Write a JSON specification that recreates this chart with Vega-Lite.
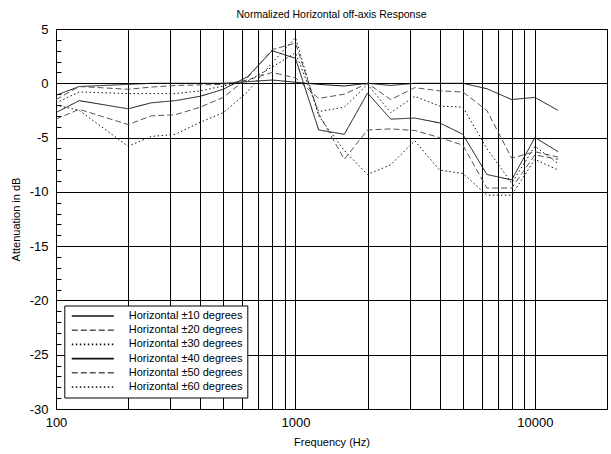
{
  "$schema": "https://vega.github.io/schema/vega-lite/v6.json",
  "width": 551,
  "height": 380,
  "autosize": {"type": "none"},
  "padding": {"left": 56, "top": 29, "right": 4, "bottom": 45},
  "background": "white",
  "title": {"text": "Normalized Horizontal off-axis Response", "fontSize": 10.5, "fontWeight": "normal", "font": "Liberation Sans", "color": "black", "offset": 3},
  "data": {"values": [
    {"f": 100, "Horizontal ±10 degrees": -1.1, "Horizontal ±20 degrees": -1.5, "Horizontal ±30 degrees": -1.8, "Horizontal ±40 degrees": -2.7, "Horizontal ±50 degrees": -3.3, "Horizontal ±60 degrees": -2.0},
    {"f": 125, "Horizontal ±10 degrees": -0.3, "Horizontal ±20 degrees": -0.3, "Horizontal ±30 degrees": -0.8, "Horizontal ±40 degrees": -1.6, "Horizontal ±50 degrees": -2.4, "Horizontal ±60 degrees": -2.5},
    {"f": 200, "Horizontal ±10 degrees": -0.1, "Horizontal ±20 degrees": -0.55, "Horizontal ±30 degrees": -0.95, "Horizontal ±40 degrees": -2.35, "Horizontal ±50 degrees": -3.8, "Horizontal ±60 degrees": -5.8},
    {"f": 250, "Horizontal ±10 degrees": 0, "Horizontal ±20 degrees": -0.35, "Horizontal ±30 degrees": -0.95, "Horizontal ±40 degrees": -1.8, "Horizontal ±50 degrees": -3.0, "Horizontal ±60 degrees": -4.9},
    {"f": 315, "Horizontal ±10 degrees": 0, "Horizontal ±20 degrees": -0.2, "Horizontal ±30 degrees": -0.95, "Horizontal ±40 degrees": -1.6, "Horizontal ±50 degrees": -2.9, "Horizontal ±60 degrees": -4.7},
    {"f": 400, "Horizontal ±10 degrees": 0, "Horizontal ±20 degrees": -0.15, "Horizontal ±30 degrees": -0.7, "Horizontal ±40 degrees": -1.2, "Horizontal ±50 degrees": -2.2, "Horizontal ±60 degrees": -3.6},
    {"f": 500, "Horizontal ±10 degrees": 0, "Horizontal ±20 degrees": -0.1, "Horizontal ±30 degrees": -0.25, "Horizontal ±40 degrees": -0.55, "Horizontal ±50 degrees": -1.3, "Horizontal ±60 degrees": -2.7},
    {"f": 630, "Horizontal ±10 degrees": 0.15, "Horizontal ±20 degrees": 0.3, "Horizontal ±30 degrees": 0.2, "Horizontal ±40 degrees": 0.6, "Horizontal ±50 degrees": 0.5, "Horizontal ±60 degrees": -0.8},
    {"f": 800, "Horizontal ±10 degrees": 0.3, "Horizontal ±20 degrees": 1.0, "Horizontal ±30 degrees": 1.5, "Horizontal ±40 degrees": 3.0, "Horizontal ±50 degrees": 3.1, "Horizontal ±60 degrees": 1.9},
    {"f": 1000, "Horizontal ±10 degrees": 0.1, "Horizontal ±20 degrees": 0.5, "Horizontal ±30 degrees": 2.8, "Horizontal ±40 degrees": 2.3, "Horizontal ±50 degrees": 3.7, "Horizontal ±60 degrees": 4.2},
    {"f": 1250, "Horizontal ±10 degrees": -0.1, "Horizontal ±20 degrees": -1.4, "Horizontal ±30 degrees": -2.6, "Horizontal ±40 degrees": -4.3, "Horizontal ±50 degrees": -2.8, "Horizontal ±60 degrees": -3.0},
    {"f": 1600, "Horizontal ±10 degrees": -0.25, "Horizontal ±20 degrees": -1.0, "Horizontal ±30 degrees": -2.2, "Horizontal ±40 degrees": -4.7, "Horizontal ±50 degrees": -7.0, "Horizontal ±60 degrees": -6.2},
    {"f": 2000, "Horizontal ±10 degrees": 0, "Horizontal ±20 degrees": 0, "Horizontal ±30 degrees": -0.1, "Horizontal ±40 degrees": -0.9, "Horizontal ±50 degrees": -4.3, "Horizontal ±60 degrees": -8.4},
    {"f": 2500, "Horizontal ±10 degrees": -0.2, "Horizontal ±20 degrees": -1.5, "Horizontal ±30 degrees": -2.7, "Horizontal ±40 degrees": -3.3, "Horizontal ±50 degrees": -4.2, "Horizontal ±60 degrees": -7.5},
    {"f": 3150, "Horizontal ±10 degrees": 0, "Horizontal ±20 degrees": -0.4, "Horizontal ±30 degrees": -1.2, "Horizontal ±40 degrees": -3.2, "Horizontal ±50 degrees": -4.35, "Horizontal ±60 degrees": -5.3},
    {"f": 4000, "Horizontal ±10 degrees": 0, "Horizontal ±20 degrees": -0.7, "Horizontal ±30 degrees": -2.1, "Horizontal ±40 degrees": -3.65, "Horizontal ±50 degrees": -5.0, "Horizontal ±60 degrees": -8.0},
    {"f": 5000, "Horizontal ±10 degrees": 0, "Horizontal ±20 degrees": -0.8, "Horizontal ±30 degrees": -2.2, "Horizontal ±40 degrees": -4.7, "Horizontal ±50 degrees": -5.7, "Horizontal ±60 degrees": -8.3},
    {"f": 6300, "Horizontal ±10 degrees": -0.5, "Horizontal ±20 degrees": -2.5, "Horizontal ±30 degrees": -6.0, "Horizontal ±40 degrees": -8.4, "Horizontal ±50 degrees": -9.65, "Horizontal ±60 degrees": -10.3},
    {"f": 8000, "Horizontal ±10 degrees": -1.5, "Horizontal ±20 degrees": -6.9, "Horizontal ±30 degrees": -9.2, "Horizontal ±40 degrees": -8.9, "Horizontal ±50 degrees": -9.65, "Horizontal ±60 degrees": -10.3},
    {"f": 10000, "Horizontal ±10 degrees": -1.3, "Horizontal ±20 degrees": -6.3, "Horizontal ±30 degrees": -5.8, "Horizontal ±40 degrees": -5.0, "Horizontal ±50 degrees": -6.6, "Horizontal ±60 degrees": -7.0},
    {"f": 12500, "Horizontal ±10 degrees": -2.5, "Horizontal ±20 degrees": -6.8, "Horizontal ±30 degrees": -7.4, "Horizontal ±40 degrees": -6.3, "Horizontal ±50 degrees": -7.0, "Horizontal ±60 degrees": -8.0}
  ]},
  "transform": [
    {"fold": ["Horizontal ±10 degrees", "Horizontal ±20 degrees", "Horizontal ±30 degrees", "Horizontal ±40 degrees", "Horizontal ±50 degrees", "Horizontal ±60 degrees"], "as": ["series", "db"]}
  ],
  "mark": {"type": "line", "strokeWidth": 1, "clip": true},
  "encoding": {
    "x": {
      "field": "f", "type": "quantitative",
      "scale": {"type": "log", "domain": [100, 20000], "nice": false},
      "axis": {
        "title": "Frequency (Hz)",
        "values": [100, 200, 300, 400, 500, 600, 700, 800, 900, 1000, 2000, 3000, 4000, 5000, 6000, 7000, 8000, 9000, 10000, 20000],
        "labelExpr": "(datum.value == 100 || datum.value == 1000 || datum.value == 10000) ? '' + datum.value : ''",
        "labelFlush": false,
        "labelOverlap": false,
        "ticks": false,
        "labelPadding": 7,
        "titlePadding": 7,
        "grid": true
      }
    },
    "y": {
      "field": "db", "type": "quantitative",
      "scale": {"domain": [-30, 5], "nice": false, "zero": false},
      "axis": {
        "title": "Attenuation in dB",
        "values": [-30, -29, -28, -27, -26, -25, -24, -23, -22, -21, -20, -19, -18, -17, -16, -15, -14, -13, -12, -11, -10, -9, -8, -7, -6, -5, -4, -3, -2, -1, 0, 1, 2, 3, 4, 5],
        "labelExpr": "datum.value % 5 == 0 ? '' + datum.value : ''",
        "labelOverlap": false,
        "ticks": true,
        "tickSize": -5,
        "tickWidth": 1,
        "tickColor": "black",
        "tickOpacity": 1,
        "labelPadding": 13,
        "titlePadding": 8,
        "grid": true,
        "gridOpacity": {"condition": {"test": "datum.value % 5 == 0", "value": 1}, "value": 0}
      }
    },
    "color": {
      "field": "series", "type": "nominal",
      "scale": {
        "domain": ["Horizontal ±10 degrees", "Horizontal ±20 degrees", "Horizontal ±30 degrees", "Horizontal ±40 degrees", "Horizontal ±50 degrees", "Horizontal ±60 degrees"],
        "range": ["#111111", "#555555", "#111111", "#111111", "#555555", "#111111"]
      },
      "legend": {
        "title": null,
        "orient": "none",
        "legendX": 8.3,
        "legendY": 276.5,
        "symbolType": "stroke",
        "symbolSize": 1764,
        "symbolStrokeWidth": 1.6,
        "clipHeight": 12,
        "rowPadding": 2.2,
        "padding": 4.5,
        "labelFontSize": 11,
        "labelFont": "Liberation Sans",
        "labelColor": "black",
        "labelOffset": 14,
        "symbolOffset": 2,
        "labelLimit": 0,
        "strokeColor": "black",
        "fillColor": "white"
      }
    },
    "strokeDash": {
      "field": "series", "type": "nominal",
      "scale": {
        "domain": ["Horizontal ±10 degrees", "Horizontal ±20 degrees", "Horizontal ±30 degrees", "Horizontal ±40 degrees", "Horizontal ±50 degrees", "Horizontal ±60 degrees"],
        "range": [[1, 0], [6, 3], [1.5, 2.5], [1, 0], [6, 3], [1.5, 2.5]]
      },
      "legend": {
        "title": null,
        "orient": "none",
        "legendX": 8.3,
        "legendY": 276.5,
        "symbolType": "stroke",
        "symbolSize": 1764,
        "symbolStrokeWidth": 1.6,
        "clipHeight": 12,
        "rowPadding": 2.2,
        "padding": 4.5,
        "labelFontSize": 11,
        "labelFont": "Liberation Sans",
        "labelColor": "black",
        "labelOffset": 14,
        "symbolOffset": 2,
        "labelLimit": 0,
        "strokeColor": "black",
        "fillColor": "white"
      }
    }
  },
  "config": {
    "font": "Liberation Sans",
    "view": {"stroke": "black", "strokeWidth": 1},
    "axis": {
      "domainColor": "black",
      "gridColor": "black",
      "gridWidth": 1,
      "tickColor": "black",
      "labelColor": "black",
      "labelFontSize": 13,
      "labelFont": "Liberation Sans",
      "titleColor": "black",
      "titleFontSize": 11,
      "titleFontWeight": "normal",
      "titleFont": "Liberation Sans"
    }
  }
}
